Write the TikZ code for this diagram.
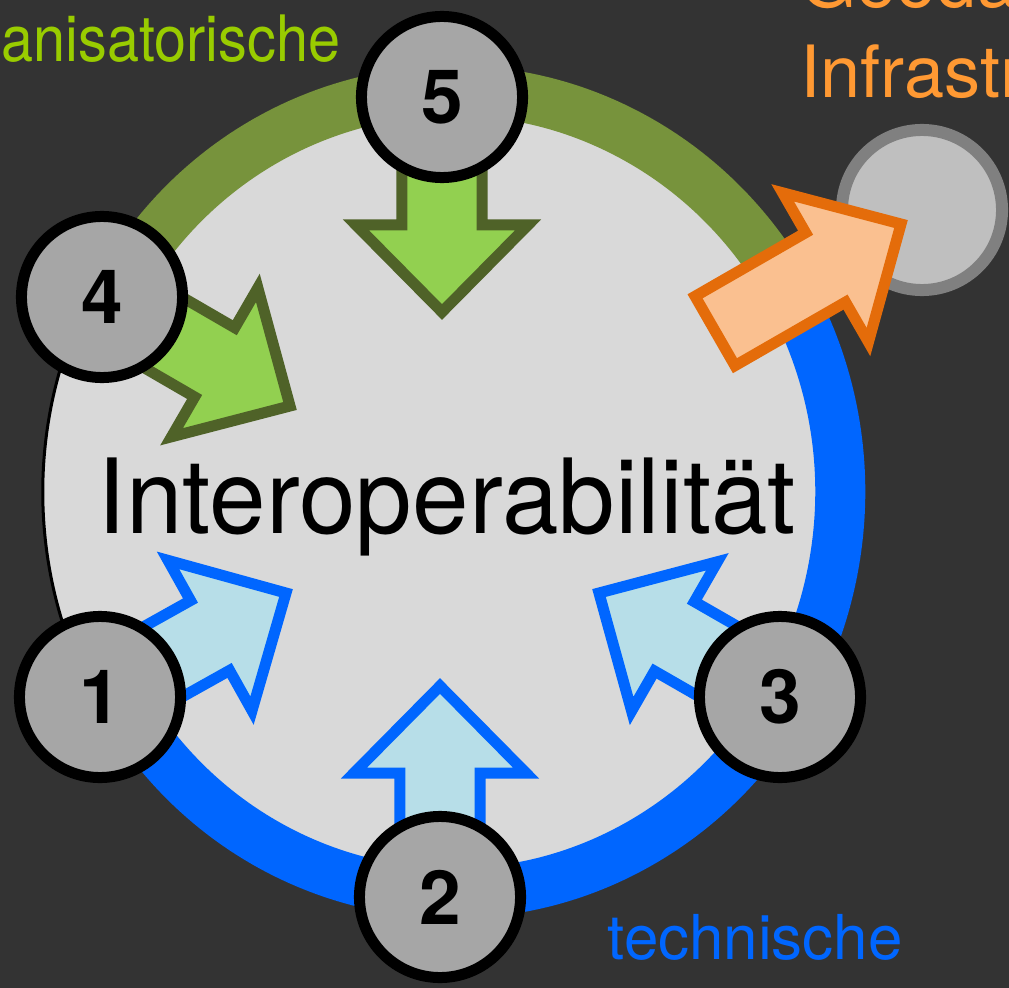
\documentclass[tikz,border=0pt]{standalone}
\usepackage{fontspec}
\setmainfont{TeX Gyre Heros}
\usetikzlibrary{calc}

\definecolor{bgdark}{HTML}{333333}
\definecolor{diskgray}{HTML}{D9D9D9}
\definecolor{orggreen}{HTML}{77933C}
\definecolor{techblue}{HTML}{0066FF}
\definecolor{stationgray}{HTML}{A6A6A6}
\definecolor{geofill}{HTML}{BFBFBF}
\definecolor{geoedge}{HTML}{808080}
\definecolor{leafgreen}{HTML}{92D050}
\definecolor{olive}{HTML}{4F6228}
\definecolor{paleblue}{HTML}{B7DEE8}
\definecolor{paleorange}{HTML}{FAC090}
\definecolor{deeporange}{HTML}{E46C0A}
\definecolor{orgtextcol}{HTML}{99CC00}
\definecolor{geotextcol}{HTML}{FF9933}

\pgfdeclarelayer{back}
\pgfsetlayers{back,main}

% block arrow from #2 to tip #3
\newcommand{\blockarrow}[3]{%
  \coordinate (ah) at ($(#3)!0.87cm!(#2)$);
  \draw[#1] ($(#2)!0.40cm!90:(#3)$) -- ($(ah)!0.40cm!-90:(#2)$) -- ($(ah)!0.86cm!-90:(#2)$)
    -- (#3) -- ($(ah)!0.86cm!90:(#2)$) -- ($(ah)!0.40cm!90:(#2)$) -- ($(#2)!0.40cm!-90:(#3)$) -- cycle;
}

\begin{document}
\begin{tikzpicture}[x=0.01cm, y=0.01cm,
    station/.style={circle, draw=black, line width=0.11cm, fill=stationgray, minimum size=1.61cm,
      inner sep=0, font=\fontsize{21.3}{24}\bfseries\selectfont},
    greenarrow/.style={fill=leafgreen, draw=olive, line width=0.11cm, line join=miter},
    bluearrow/.style={fill=paleblue, draw=techblue, line width=0.11cm, line join=miter},
    orangearrow/.style={fill=paleorange, draw=deeporange, line width=0.11cm, line join=miter},
    ring/.style={line width=0.50cm}]
    \useasboundingbox (0,0) rectangle (1009,-988);
    \coordinate (C) at (453,-492);

    \node[station] (n1) at (100,-697) {1};
    \node[station] (n2) at (440,-897) {2};
    \node[station] (n3) at (780,-697) {3};
    \node[station] (n4) at (102,-297) {4};
    \node[station] (n5) at (442,-97) {5};

    \coordinate (tip1) at (286,-593);
    \coordinate (tip2) at (440,-686);
    \coordinate (tip3) at (599,-593);
    \coordinate (tip4) at (290,-406);
    \coordinate (tip5) at (442,-312);
    \coordinate (otail) at (715,-331);
    \coordinate (otip) at (901,-224);

    \node[font=\fontsize{29.5}{34}\selectfont, anchor=base, inner sep=0] (title) at (447,-533) {\scalebox{0.98}[1]{Interoperabilität}};
    \node[font=\fontsize{18.2}{22}\selectfont, text=orgtextcol, anchor=base east, inner sep=0] (orgname) at (341,-62) {\scalebox{0.9}[1]{Organisatorische}};
    \node[font=\fontsize{20.5}{24}\selectfont, text=geotextcol, anchor=base west, inner sep=0] (geoname) at (800,-8) {Geodaten-};
    \node[font=\fontsize{20.5}{24}\selectfont, text=geotextcol, anchor=base west, inner sep=0] (geoname2) at (800,-98) {Infrastruktur};
    \node[font=\fontsize{17.6}{21}\selectfont, text=techblue, anchor=base west, inner sep=0] (techname) at (607,-959) {technische};

    \begin{pgfonlayer}{back}
    \fill[bgdark] (0,0) rectangle (1009,-988);
    \draw[black, line width=0.03cm, fill=diskgray] (C) ellipse [x radius=4.10cm, y radius=4.24cm];
    \draw[ring, orggreen] ($(C)+(150:3.87cm and 4.01cm)$) arc [start angle=150, end angle=30, x radius=3.87cm, y radius=4.01cm];
    \draw[ring, techblue] ($(C)+(30:3.87cm and 4.01cm)$) arc [start angle=30, end angle=-150, x radius=3.87cm, y radius=4.01cm];

    \blockarrow{bluearrow}{n1.center}{tip1}
    \blockarrow{bluearrow}{n2.center}{tip2}
    \blockarrow{bluearrow}{n3.center}{tip3}
    \blockarrow{greenarrow}{n4.center}{tip4}
    \blockarrow{greenarrow}{n5.center}{tip5}

    \node[circle, draw=geoedge, line width=0.12cm, fill=geofill, minimum size=1.60cm] (geo) at (922,-210) {};
    \blockarrow{orangearrow}{otail}{otip}
    \end{pgfonlayer}
\end{tikzpicture}
\end{document}
